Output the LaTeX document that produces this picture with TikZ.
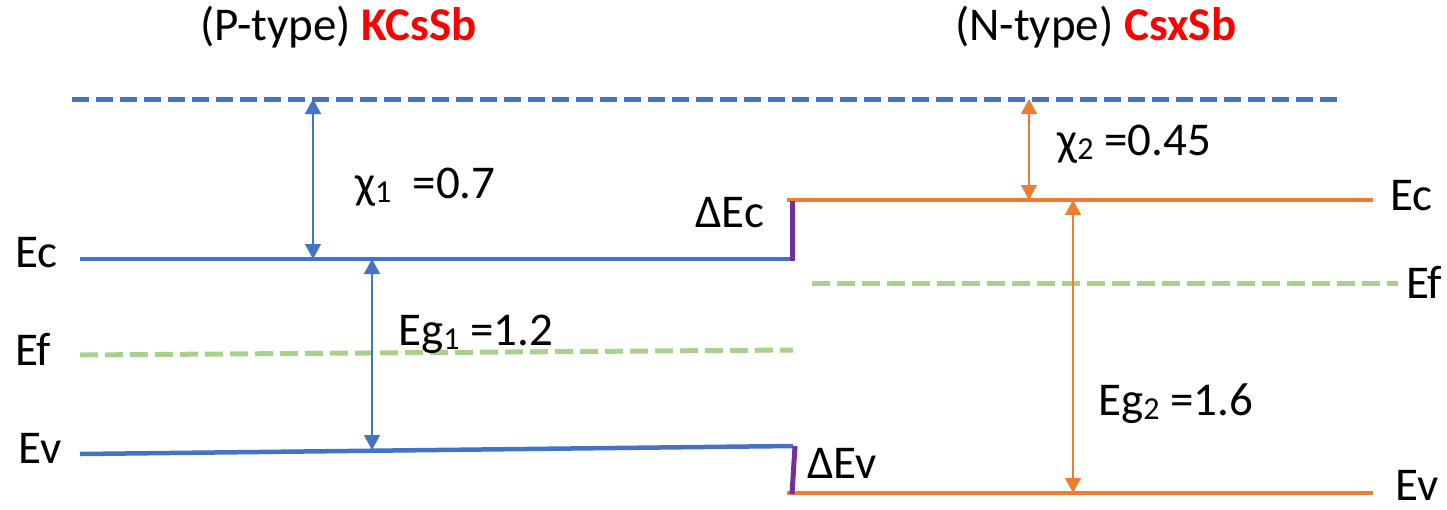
\documentclass[tikz,border=0pt]{standalone}
\usepackage{fontspec}
\setmainfont{Carlito}
\usetikzlibrary{arrows.meta}
\definecolor{cblue}{HTML}{4472C4}
\definecolor{corange}{HTML}{ED7D31}
\definecolor{cgreen}{HTML}{A9D18E}
\definecolor{cpurple}{HTML}{7030A0}
\definecolor{cred}{HTML}{FF0000}
\newcommand{\mysub}[1]{\raisebox{-0.1em}{\fontsize{32}{34}\selectfont #1}}
\tikzset{
  lbl/.style={anchor=base west, inner sep=0pt, font=\fontsize{47}{54}\selectfont},
  band/.style={line width=4.5pt},
  fermi/.style={line width=5pt, cgreen, dash pattern=on 18pt off 7pt},
  vac/.style={line width=5pt, cblue, dash pattern=on 17pt off 7pt},
  offs/.style={line width=5pt, cpurple},
  gap/.style={line width=1.5pt, {Triangle[width=16pt,length=15pt]}-{Triangle[width=16pt,length=15pt]}}
}
\begin{document}
\begin{tikzpicture}[x=1pt,y=-1pt]
\useasboundingbox (0,0) rectangle (1447,509);
% coordinates
\coordinate (vacL) at (72,99);
\coordinate (vacR) at (1338,99);
\coordinate (ecL1) at (80,259);
\coordinate (ecL2) at (793,259);
\coordinate (efL1) at (80,355);
\coordinate (efL2) at (793,350);
\coordinate (evL1) at (80,454);
\coordinate (evL2) at (793,446);
\coordinate (ecR1) at (787,200);
\coordinate (ecR2) at (1373,200);
\coordinate (efR1) at (812,283);
\coordinate (efR2) at (1398,283);
\coordinate (evR1) at (787,493);
\coordinate (evR2) at (1373,493);
\coordinate (dc1) at (792,201);
\coordinate (dc2) at (792,261);
\coordinate (dv1) at (795,446);
\coordinate (dv2) at (792,494);
\coordinate (x1t) at (313,99);
\coordinate (x1b) at (313,259);
\coordinate (g1t) at (372,259);
\coordinate (g1b) at (372,450);
\coordinate (x2t) at (1029,99);
\coordinate (x2b) at (1029,200);
\coordinate (g2t) at (1073,200);
\coordinate (g2b) at (1073,493);
% lines
\draw[vac] (vacL) -- (vacR);
\draw[band, cblue] (ecL1) -- (ecL2);
\draw[fermi] (efL1) -- (efL2);
\draw[band, cblue] (evL1) -- (evL2);
\draw[band, corange] (ecR1) -- (ecR2);
\draw[fermi] (efR1) -- (efR2);
\draw[band, corange] (evR1) -- (evR2);
\draw[offs] (dc1) -- (dc2);
\draw[offs] (dv1) -- (dv2);
% arrows
\draw[gap, cblue] (x1t) -- (x1b);
\draw[gap, cblue] (g1t) -- (g1b);
\draw[gap, corange] (x2t) -- (x2b);
\draw[gap, corange] (g2t) -- (g2b);
% labels
\node[lbl] (tP) at (200,40) {(P-type) {\bfseries\color{cred}KCsSb}};
\node[lbl] (tN) at (955,40) {(N-type) {\bfseries\color{cred}CsxSb}};
\node[lbl] (chi1) at (355,198) {χ\mysub{1}\ \ =0.7};
\node[lbl] (eg1) at (398,345) {Eg\mysub{1} =1.2};
\node[lbl] (chi2) at (1057,155) {χ\mysub{2} =0.45};
\node[lbl] (eg2) at (1098,415) {Eg\mysub{2} =1.6};
\node[lbl] (dEc) at (695,227) {ΔEc};
\node[lbl] (dEv) at (807,478) {ΔEv};
\node[lbl] (lEc) at (15,267) {Ec};
\node[lbl] (lEf) at (15,365) {Ef};
\node[lbl] (lEv) at (18,463) {Ev};
\node[lbl] (rEc) at (1390,210) {Ec};
\node[lbl] (rEf) at (1406,298) {Ef};
\node[lbl] (rEv) at (1395,500) {Ev};
\end{tikzpicture}
\end{document}
